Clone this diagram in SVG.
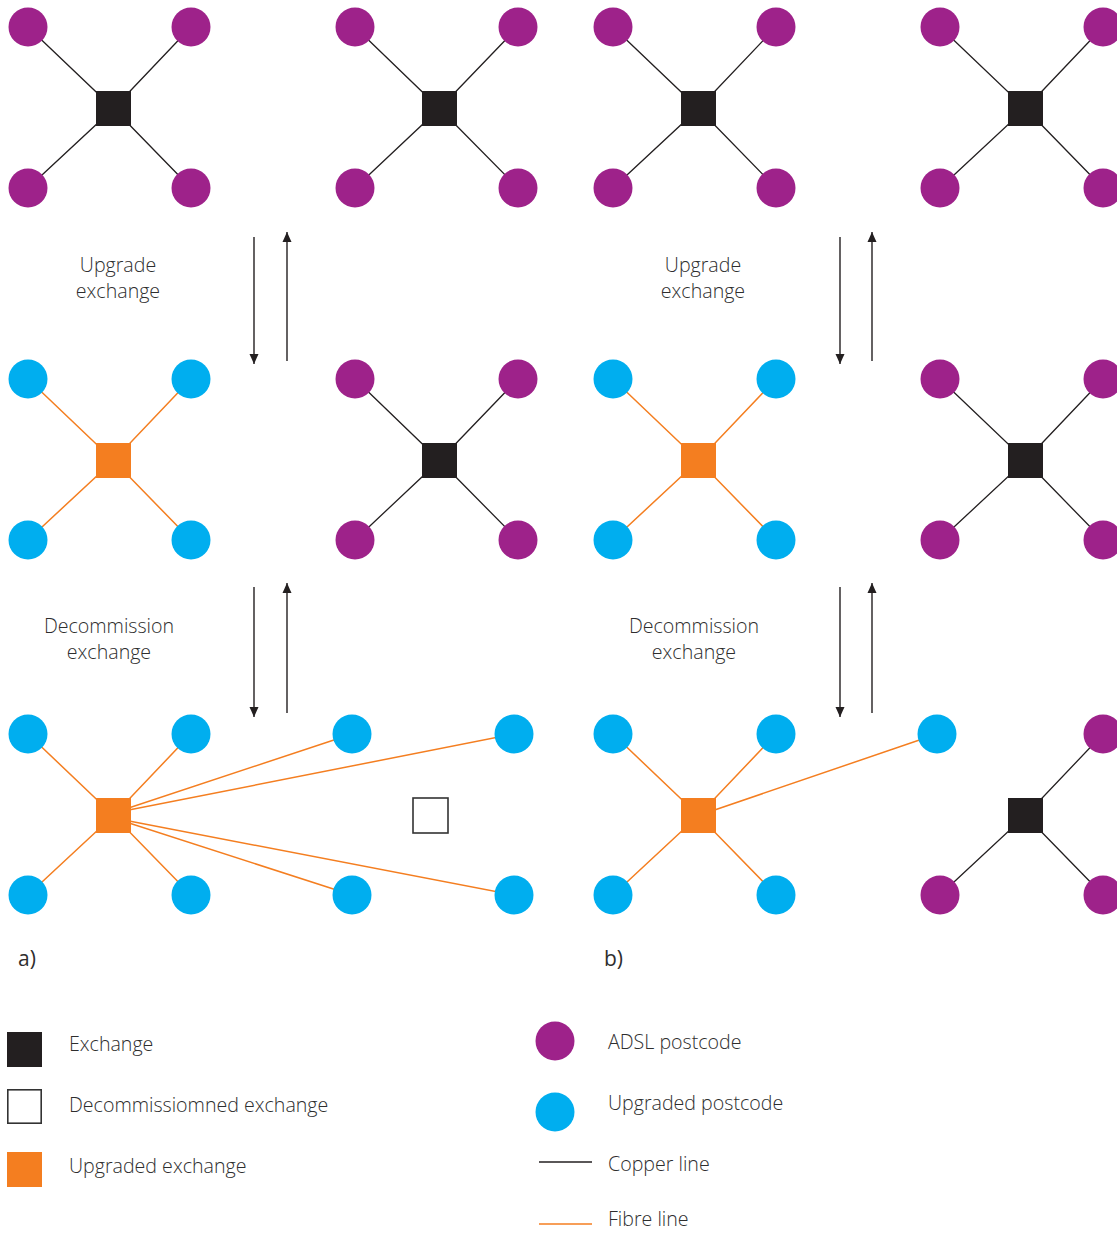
<svg xmlns="http://www.w3.org/2000/svg" width="1117" height="1233" viewBox="0 0 1117 1233">
  <style>
    .adsl { fill: #9e228a; }
    .up { fill: #00aeef; }
    .ex { fill: #231f20; }
    .upx { fill: #f47e20; }
    .dec { fill: #ffffff; stroke: #333333; stroke-width: 1.6; }
    .cu { stroke: #231f20; stroke-width: 1.3; fill: none; }
    .fb { stroke: #f47e20; stroke-width: 1.5; fill: none; }
    .arr { stroke: #231f20; stroke-width: 1.4; fill: none; }
    text { font-family: "Open Sans", "Liberation Sans", sans-serif; font-weight: 300; font-size: 19.6px; fill: #2e2e2e; }
    .mid { text-anchor: middle; }
    .tag { font-weight: 400; font-size: 21px; }
  </style>
  <defs>
    <marker id="head" viewBox="0 0 10 12" refX="10" refY="6" markerWidth="10" markerHeight="12" markerUnits="userSpaceOnUse" orient="auto">
      <path d="M0,1.5 L10,6 L0,10.5 Z" fill="#231f20"/>
    </marker>
  </defs>

  <!-- connectors -->
  <g id="connectors">
    <!-- row 1 copper -->
    <path class="cu" d="M28,27 L113.5,108.5 L191,27 M28,188 L113.5,108.5 L191,188"/>
    <path class="cu" d="M355,27 L439.5,108.5 L518,27 M355,188 L439.5,108.5 L518,188"/>
    <path class="cu" d="M613,27 L698.5,108.5 L776,27 M613,188 L698.5,108.5 L776,188"/>
    <path class="cu" d="M940,27 L1025.5,108.5 L1103,27 M940,188 L1025.5,108.5 L1103,188"/>
    <!-- row 2 -->
    <path class="fb" d="M28,379 L113.5,460.5 L191,379 M28,540 L113.5,460.5 L191,540"/>
    <path class="cu" d="M355,379 L439.5,460.5 L518,379 M355,540 L439.5,460.5 L518,540"/>
    <path class="fb" d="M613,379 L698.5,460.5 L776,379 M613,540 L698.5,460.5 L776,540"/>
    <path class="cu" d="M940,379 L1025.5,460.5 L1103,379 M940,540 L1025.5,460.5 L1103,540"/>
    <!-- row 3 -->
    <path class="fb" d="M28,734 L113.5,815.5 L191,734 M28,895 L113.5,815.5 L191,895"/>
    <path class="fb" d="M113.5,813 L352,734 M113.5,813 L514,734 M113.5,818 L352,895 M113.5,818 L514,895"/>
    <path class="fb" d="M613,734 L698.5,815.5 L776,734 M613,895 L698.5,815.5 L776,895 M698.5,815.5 L937,734"/>
    <path class="cu" d="M1103,734 L1025.5,815.5 L940,895 M1025.5,815.5 L1103,895"/>
    <!-- transition arrows -->
    <line class="arr" x1="254" y1="237" x2="254" y2="364" marker-end="url(#head)"/>
    <line class="arr" x1="287" y1="361" x2="287" y2="232" marker-end="url(#head)"/>
    <line class="arr" x1="254" y1="587" x2="254" y2="717" marker-end="url(#head)"/>
    <line class="arr" x1="287" y1="713" x2="287" y2="583" marker-end="url(#head)"/>
    <line class="arr" x1="840" y1="237" x2="840" y2="364" marker-end="url(#head)"/>
    <line class="arr" x1="872" y1="361" x2="872" y2="232" marker-end="url(#head)"/>
    <line class="arr" x1="840" y1="587" x2="840" y2="717" marker-end="url(#head)"/>
    <line class="arr" x1="872" y1="713" x2="872" y2="583" marker-end="url(#head)"/>
  </g>

  <!-- row 1: four copper exchanges -->
  <g id="a-r1-left">
    <circle class="adsl" cx="28" cy="27" r="19.5"/><circle class="adsl" cx="191" cy="27" r="19.5"/>
    <circle class="adsl" cx="28" cy="188" r="19.5"/><circle class="adsl" cx="191" cy="188" r="19.5"/>
    <rect class="ex" x="96" y="91" width="35" height="35"/>
  </g>
  <g id="a-r1-right">
    <circle class="adsl" cx="355" cy="27" r="19.5"/><circle class="adsl" cx="518" cy="27" r="19.5"/>
    <circle class="adsl" cx="355" cy="188" r="19.5"/><circle class="adsl" cx="518" cy="188" r="19.5"/>
    <rect class="ex" x="422" y="91" width="35" height="35"/>
  </g>
  <g id="b-r1-left">
    <circle class="adsl" cx="613" cy="27" r="19.5"/><circle class="adsl" cx="776" cy="27" r="19.5"/>
    <circle class="adsl" cx="613" cy="188" r="19.5"/><circle class="adsl" cx="776" cy="188" r="19.5"/>
    <rect class="ex" x="681" y="91" width="35" height="35"/>
  </g>
  <g id="b-r1-right">
    <circle class="adsl" cx="940" cy="27" r="19.5"/><circle class="adsl" cx="1103" cy="27" r="19.5"/>
    <circle class="adsl" cx="940" cy="188" r="19.5"/><circle class="adsl" cx="1103" cy="188" r="19.5"/>
    <rect class="ex" x="1008" y="91" width="35" height="35"/>
  </g>

  <!-- row 2: left exchange upgraded -->
  <g id="a-r2-left">
    <circle class="up" cx="28" cy="379" r="19.5"/><circle class="up" cx="191" cy="379" r="19.5"/>
    <circle class="up" cx="28" cy="540" r="19.5"/><circle class="up" cx="191" cy="540" r="19.5"/>
    <rect class="upx" x="96" y="443" width="35" height="35"/>
  </g>
  <g id="a-r2-right">
    <circle class="adsl" cx="355" cy="379" r="19.5"/><circle class="adsl" cx="518" cy="379" r="19.5"/>
    <circle class="adsl" cx="355" cy="540" r="19.5"/><circle class="adsl" cx="518" cy="540" r="19.5"/>
    <rect class="ex" x="422" y="443" width="35" height="35"/>
  </g>
  <g id="b-r2-left">
    <circle class="up" cx="613" cy="379" r="19.5"/><circle class="up" cx="776" cy="379" r="19.5"/>
    <circle class="up" cx="613" cy="540" r="19.5"/><circle class="up" cx="776" cy="540" r="19.5"/>
    <rect class="upx" x="681" y="443" width="35" height="35"/>
  </g>
  <g id="b-r2-right">
    <circle class="adsl" cx="940" cy="379" r="19.5"/><circle class="adsl" cx="1103" cy="379" r="19.5"/>
    <circle class="adsl" cx="940" cy="540" r="19.5"/><circle class="adsl" cx="1103" cy="540" r="19.5"/>
    <rect class="ex" x="1008" y="443" width="35" height="35"/>
  </g>

  <!-- row 3: after decommissioning -->
  <g id="a-r3-left">
    <circle class="up" cx="28" cy="734" r="19.5"/><circle class="up" cx="191" cy="734" r="19.5"/>
    <circle class="up" cx="28" cy="895" r="19.5"/><circle class="up" cx="191" cy="895" r="19.5"/>
    <rect class="upx" x="96" y="798" width="35" height="35"/>
  </g>
  <g id="a-r3-right">
    <circle class="up" cx="352" cy="734" r="19.5"/><circle class="up" cx="514" cy="734" r="19.5"/>
    <circle class="up" cx="352" cy="895" r="19.5"/><circle class="up" cx="514" cy="895" r="19.5"/>
    <rect class="dec" x="413" y="798" width="35" height="35"/>
  </g>
  <g id="b-r3-left">
    <circle class="up" cx="613" cy="734" r="19.5"/><circle class="up" cx="776" cy="734" r="19.5"/>
    <circle class="up" cx="613" cy="895" r="19.5"/><circle class="up" cx="776" cy="895" r="19.5"/>
    <rect class="upx" x="681" y="798" width="35" height="35"/>
  </g>
  <g id="b-r3-right">
    <circle class="up" cx="937" cy="734" r="19.5"/><circle class="adsl" cx="1103" cy="734" r="19.5"/>
    <circle class="adsl" cx="940" cy="895" r="19.5"/><circle class="adsl" cx="1103" cy="895" r="19.5"/>
    <rect class="ex" x="1008" y="798" width="35" height="35"/>
  </g>

  <!-- step labels -->
  <g id="labels">
    <text class="mid" x="118" y="272">Upgrade</text>
    <text class="mid" x="118" y="298">exchange</text>
    <text class="mid" x="703" y="272">Upgrade</text>
    <text class="mid" x="703" y="298">exchange</text>
    <text class="mid" x="109" y="633">Decommission</text>
    <text class="mid" x="109" y="659">exchange</text>
    <text class="mid" x="694" y="633">Decommission</text>
    <text class="mid" x="694" y="659">exchange</text>
    <text class="tag" x="18" y="966">a)</text>
    <text class="tag" x="604" y="966">b)</text>
  </g>

  <!-- legend -->
  <g id="legend">
    <rect class="ex" x="7" y="1032" width="35" height="35"/>
    <text x="69" y="1051">Exchange</text>
    <rect class="dec" x="7.8" y="1089.8" width="33.4" height="33.4"/>
    <text x="69" y="1112">Decommissiomned exchange</text>
    <rect class="upx" x="7" y="1152" width="35" height="35"/>
    <text x="69" y="1173">Upgraded exchange</text>
    <circle class="adsl" cx="555" cy="1041" r="19.5"/>
    <text x="608" y="1049">ADSL postcode</text>
    <circle class="up" cx="555" cy="1112" r="19.5"/>
    <text x="608" y="1110">Upgraded postcode</text>
    <line class="cu" x1="539" y1="1162" x2="592" y2="1162"/>
    <text x="608" y="1171">Copper line</text>
    <line class="fb" x1="539" y1="1224" x2="592" y2="1224"/>
    <text x="608" y="1226">Fibre line</text>
  </g>
</svg>
